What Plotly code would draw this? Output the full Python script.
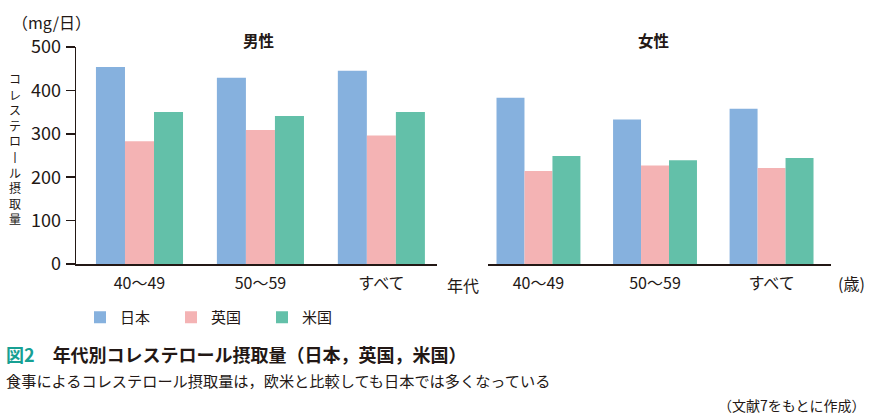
import plotly.graph_objects as go

W, H = 881, 418

categories = ["40〜49", "50〜59", "すべて"]
countries = ["日本", "英国", "米国"]
male_japan = [454, 429, 445]
male_uk = [283, 309, 296]
male_us = [350, 341, 350]
female_japan = [383, 333, 358]
female_uk = [214, 227, 221]
female_us = [249, 239, 244]
colors = ["#86b1de", "#f4b3b4", "#63c0a9"]
y_ticks = [0, 100, 200, 300, 400, 500]

TXT = "#231815"
FONT = "Noto Sans CJK JP"

fig = go.Figure()
male = [male_japan, male_uk, male_us]
female = [female_japan, female_uk, female_us]
for i, name in enumerate(countries):
    fig.add_trace(go.Bar(x=categories, y=male[i], name=name, marker_color=colors[i],
                         marker_line_width=0, xaxis="x", yaxis="y", offsetgroup=str(i),
                         legendgroup=name))
for i, name in enumerate(countries):
    fig.add_trace(go.Bar(x=categories, y=female[i], name=name, marker_color=colors[i],
                         marker_line_width=0, xaxis="x2", yaxis="y2", offsetgroup=str(i),
                         legendgroup=name, showlegend=False))

def px(x):
    return x / W

def py(y):
    return 1 - y / H

axis_common = dict(showline=True, linecolor=TXT, linewidth=1.5, ticks="", showgrid=False,
                   zeroline=False, tickfont=dict(size=16, color=TXT, family=FONT),
                   fixedrange=True, automargin=False, ticklabelstandoff=4)

fig.update_layout(
    width=W, height=H,
    margin=dict(l=0, r=0, t=0, b=0, autoexpand=False),
    paper_bgcolor="white", plot_bgcolor="white",
    font=dict(family=FONT, color=TXT),
    barmode="group", bargap=0.28, bargroupgap=0,
    xaxis=dict(domain=[px(76), px(437)], range=[-0.525, 2.46], anchor="y", **axis_common),
    xaxis2=dict(domain=[px(488), px(831)], range=[-0.433, 2.51], anchor="y2", **axis_common),
    yaxis=dict(domain=[py(264), py(47)], range=[0, 500], anchor="x", showline=True,
               linecolor=TXT, linewidth=1.5, ticks="outside", ticklen=9, tickwidth=1.5,
               tickcolor=TXT, tickvals=y_ticks, showgrid=False, zeroline=False,
               automargin=False, fixedrange=True, ticklabelstandoff=1,
               tickfont=dict(size=18, color=TXT, family=FONT)),
    yaxis2=dict(domain=[py(264), py(47)], range=[0, 500], anchor="x2", visible=False,
                automargin=False, fixedrange=True),
    legend=dict(orientation="h", x=px(80), y=py(301), xanchor="left", yanchor="top",
                font=dict(size=15, color=TXT, family=FONT), entrywidth=46,
                entrywidthmode="pixels", itemclick=False, itemdoubleclick=False,
                bgcolor="rgba(0,0,0,0)"),
    showlegend=True,
)

ann = []
def add_text(text, x, y, size, xanchor="center", yanchor="middle", **kw):
    ann.append(dict(text=text, x=px(x), y=py(y), xref="paper", yref="paper",
                    xanchor=xanchor, yanchor=yanchor, showarrow=False,
                    font=dict(size=size, color=TXT, family=FONT), **kw))

add_text("（mg/日）", 51, 22, 16)
add_text("<b>男性</b>", 258, 40, 15.5)
add_text("<b>女性</b>", 653, 40, 15.5)
add_text("年代", 463, 285, 16)
add_text("(歳)", 851, 283, 16)

vchars = ["コ", "レ", "ス", "テ", "ロ", "丨", "ル", "摂", "取", "量"]
add_text("<br>".join(vchars), 15, 148, 12)

add_text("<span style='color:#17a093'><b>図2</b></span>　<b>年代別コレステロール摂取量（日本，英国，米国）</b>",
         4, 354, 18, xanchor="left")
add_text("食事によるコレステロール摂取量は，欧米と比較しても日本では多くなっている",
         4, 380, 15.2, xanchor="left")
add_text("（文献7をもとに作成）", 868, 405, 14, xanchor="right")

fig.update_layout(annotations=ann)
fig.write_html("out.html", config={"displayModeBar": False, "staticPlot": True},
               post_script="document.body.style.margin='0';document.body.style.overflow='hidden';")
